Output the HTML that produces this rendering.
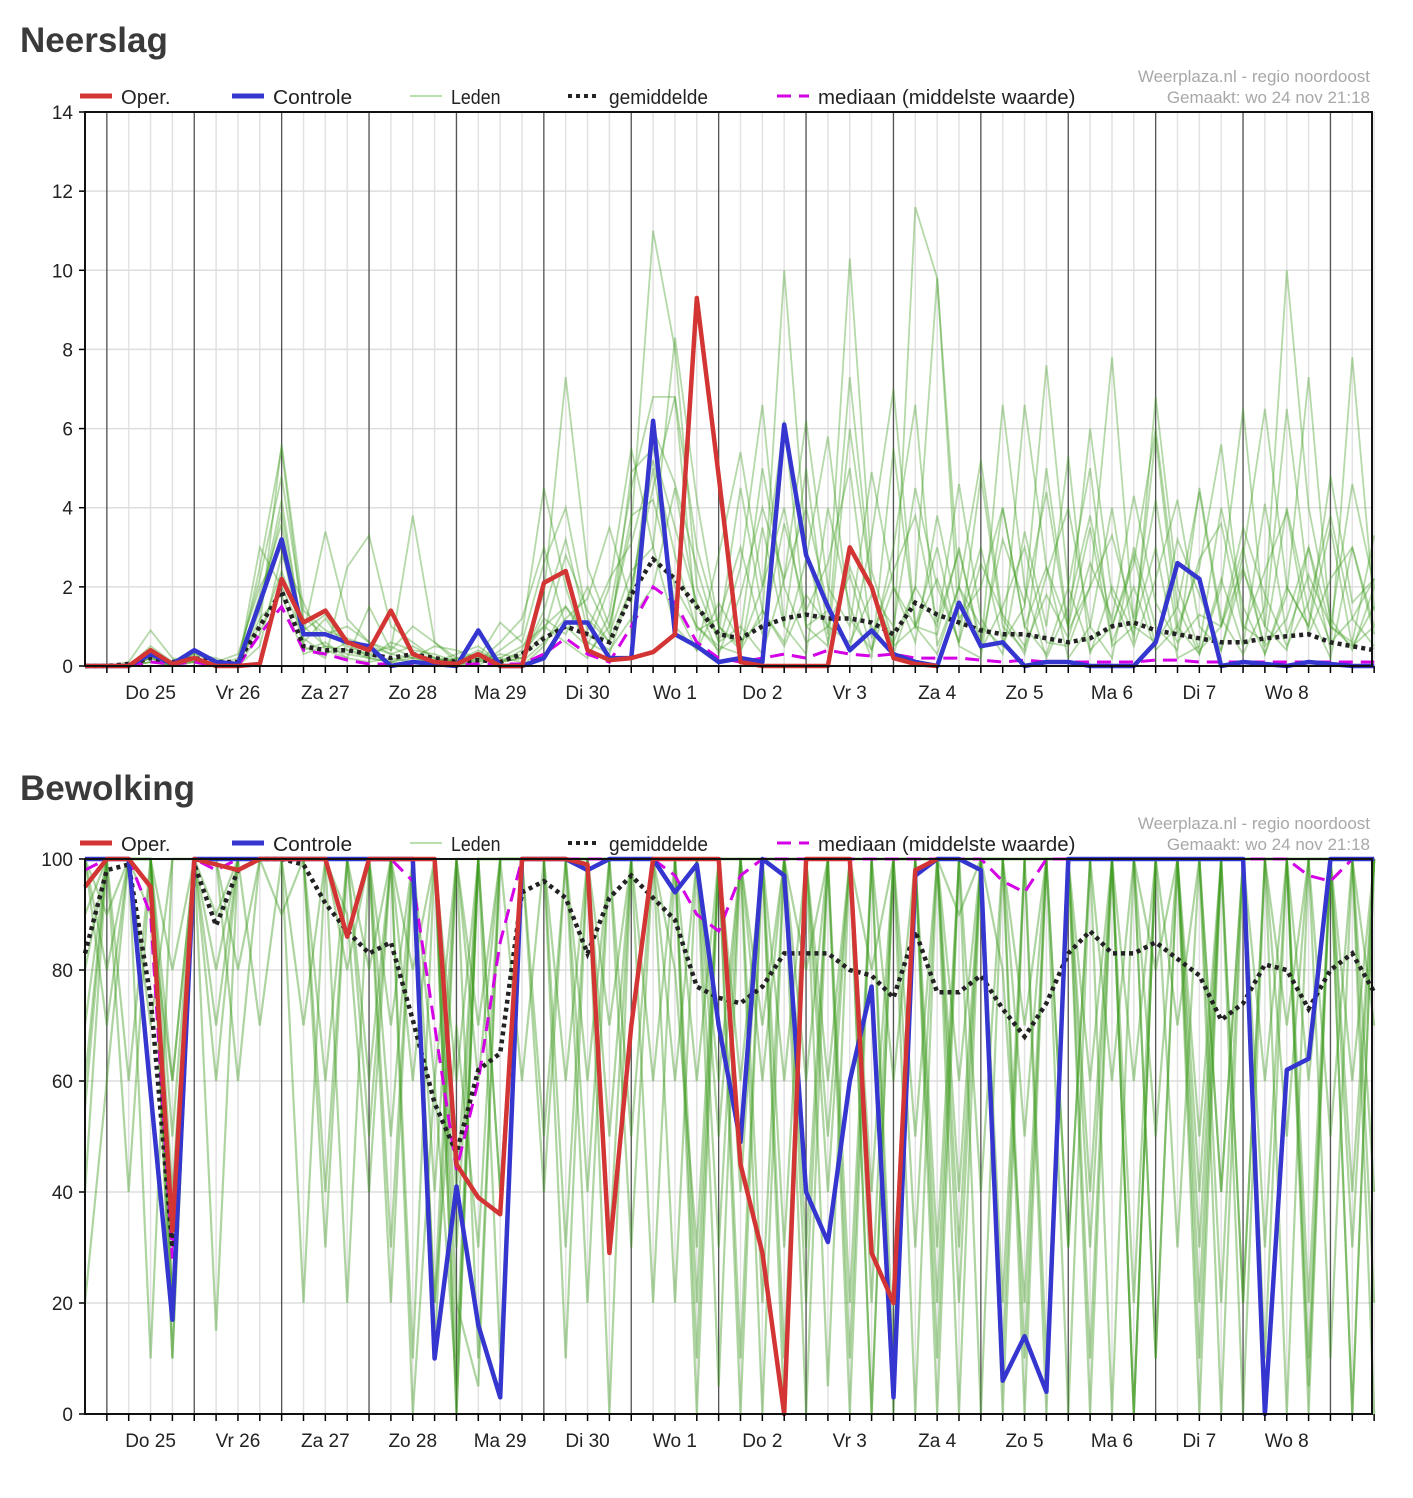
<!DOCTYPE html>
<html><head><meta charset="utf-8">
<style>
body{margin:0;background:#fff;width:1413px;height:1498px;overflow:hidden;font-family:"Liberation Sans",sans-serif;}
svg{position:absolute;left:0;top:0;}
</style></head>
<body>
<svg id="root" width="1413" height="1498" xmlns="http://www.w3.org/2000/svg">
<text x="20" y="52" font-size="35" font-weight="bold" fill="#3a3a3a" font-family="Liberation Sans, sans-serif">Neerslag</text>
<text x="20" y="800" font-size="35" font-weight="bold" fill="#3a3a3a" font-family="Liberation Sans, sans-serif">Bewolking</text>
<g id="c1"></g>
<g id="c2"></g>
</svg>
<script>
const dayLabels = ["Do 25","Vr 26","Za 27","Zo 28","Ma 29","Di 30","Wo 1","Do 2","Vr 3","Za 4","Zo 5","Ma 6","Di 7","Wo 8"];
const rainTicks = [0,2,4,6,8,10,12,14];
const cloudTicks = [0,20,40,60,80,100];

const rainOper = [0,0,0,0.4,0.05,0.2,0,0,0.05,2.2,1.1,1.4,0.6,0.4,1.4,0.3,0.1,0.05,0.3,0,0,2.1,2.4,0.4,0.15,0.2,0.35,0.8,9.3,4.8,0.1,0,0,0,0,3.0,2.0,0.2,0.05,0];
const rainCtrl = [0,0,0,0.3,0.05,0.4,0.1,0.05,1.6,3.2,0.8,0.8,0.6,0.5,0,0.1,0.05,0,0.9,0,0,0.2,1.1,1.1,0.2,0.2,6.2,0.8,0.5,0.1,0.2,0.1,6.1,2.8,1.5,0.4,0.9,0.3,0.1,0,1.6,0.5,0.6,0,0.1,0.1,0,0,0,0.6,2.6,2.2,0,0.1,0.05,0,0.1,0.05,0,0];
const rainMean = [0,0,0.05,0.2,0.1,0.2,0.1,0.1,1.0,1.9,0.5,0.4,0.4,0.3,0.2,0.3,0.2,0.1,0.15,0.1,0.3,0.7,1.0,0.8,0.6,1.8,2.7,2.2,1.5,0.8,0.7,1.0,1.2,1.3,1.2,1.2,1.1,0.8,1.6,1.3,1.1,0.9,0.8,0.8,0.7,0.6,0.7,1.0,1.1,0.9,0.8,0.7,0.6,0.6,0.7,0.75,0.8,0.6,0.5,0.4];
const rainMedian = [0,0,0,0.1,0.05,0.1,0,0,0.8,1.5,0.4,0.3,0.15,0.05,0.05,0.05,0.05,0.05,0.05,0.05,0.05,0.3,0.7,0.3,0.1,1.0,2.0,1.6,0.6,0.2,0.1,0.2,0.3,0.2,0.4,0.3,0.25,0.3,0.2,0.2,0.2,0.15,0.1,0.15,0.1,0.1,0.1,0.1,0.1,0.15,0.15,0.1,0.1,0.1,0.1,0.1,0.1,0.1,0.1,0.1];
const rainMembers = [
[0,0,0,0.5,0.1,0.2,0,0,2.5,5.5,1,0.5,0.3,0.2,0.1,0,0,0,0.2,0,0,0.5,1.5,0.6,0.3,2,4.5,6.8,3,1,0.5,2,4,1,0.5,6,2,0.5,1,3,0.5,0.2,4,1,0.3,2,5,0.5,1,3,0.2,0.5,4,1.5,0.3,2,1,3.5,0.5,1],
[0,0,0.1,0.9,0.2,0.1,0,0.1,1.5,4.2,0.6,1.2,0.4,0.3,0.5,0.2,0.1,0.3,0.5,0.1,0.4,1.8,7.3,2.5,1,3.5,11,8,2,0.6,2.5,6.6,1,0.3,4,1.5,0.2,5.5,1,0.8,3,0.4,6.6,2,0.2,1.5,3.8,1,2.6,6,1.5,0.3,2,6.5,1,0.4,3,1,4.6,2],
[0,0,0,0.2,0,0.3,0.2,0,3,2,0.8,3.4,1.2,0.6,0.4,1,0.6,0.2,0.1,0.6,1.2,3,1,0.5,2,5.5,3,1,0.4,1.6,0.6,1.2,10,3,0.6,2.5,1,0.3,2,9.8,1,3,0.6,1.5,7.6,2,0.4,1,2.8,0.5,3.2,1.8,0.4,2.4,1,6.5,2,0.6,1.2,2.2],
[0,0,0,0.3,0.1,0.1,0.1,0.3,2,3,0.4,0.6,0.2,1.5,0.4,3.8,0.6,0.1,0.3,0.2,0.5,1,0.6,0.2,1.3,4.5,6.8,6.8,1,0.5,0.3,3.5,1,5,0.8,7.3,2,0.5,11.6,9.8,2,0.4,1.5,3,0.6,0.5,2,7.8,1,0.6,1.5,4.4,1,3,0.3,1.8,7.3,1,0.5,1.5],
[0,0,0,0.1,0,0.2,0,0.1,1,5.6,1.4,0.9,0.7,0.5,0.3,0.2,0.5,0.4,0.2,1.1,0.6,2.6,4,1.2,0.6,2,5,1.5,0.4,2.8,5.4,2,6.2,1,1.4,0.4,3.3,7,1,2.2,0.6,4.8,1,0.4,5,1,3.5,0.6,2,0.4,1,2.5,5.6,1,0.6,4,1.4,0.2,3,0.8],
[0,0,0,0.2,0.1,0.3,0.1,0,0.5,2.8,1.6,0.4,0.2,0.1,0.2,0.1,0,0.2,0.1,0.2,0.1,0.6,1.2,1.7,3.5,1.6,6,4.6,2.5,0.6,1,0.3,2.2,4,1.5,10.3,2.4,0.6,2,1,4.6,1.2,0.3,3.4,1,5.3,0.3,2,0.8,5.8,1,0.3,2.2,0.5,4.1,0.8,2.3,1,0.6,3.3],
[0,0,0,0.4,0,0.1,0,0,1.8,3.6,0.5,0.2,2.5,3.3,1,0.6,0.2,0.1,0,0.4,0.8,4.5,2,0.3,1,3.8,4.2,2,1,0.4,0.8,5,2,0.6,1,2.3,0.4,3,6.6,0.5,2,1,0.5,6.6,2.5,0.2,1,4,0.6,6.8,2,0.4,1,2.5,0.5,1.2,3,0.4,7.8,1.4],
[0,0,0,0.1,0,0.2,0,0,0.8,2.4,0.9,1.3,0.5,0.3,0.1,0.3,0.2,0,0.1,0.3,0.2,1.2,0.8,2,0.8,2.4,3,8.3,4.2,1,0.4,1.4,0.6,2.7,5.8,1.2,0.4,2,1,0.3,2,5.2,1.2,0.3,2.3,4,1,0.2,3,1,0.4,4.5,1.2,0.3,1.5,10,4,1.2,0.4,2],
[0,0,0,0.2,0,0,0.1,0,1.2,1.8,0.3,0.5,0.4,0.2,0.6,0.4,0.3,0.1,0.2,0.1,0.3,1,1.5,0.8,0.4,1.2,2,4.5,1.5,0.8,4.5,1.4,0.5,1.8,1,0.6,1.8,1,4.5,2,0.6,2.6,1.3,0.5,1.8,0.7,2.6,1.2,4.3,1.6,0.6,1.3,1,3.5,1.8,0.5,1.6,3.8,1.2,0.5],
[0,0,0,0.3,0.1,0.2,0,0.2,2.2,4.8,1.2,0.8,1,0.6,0.3,0.5,0.2,0.1,0.4,0.1,0.2,0.8,2.8,1.4,0.6,4.9,5.5,3.5,1.6,0.3,1.8,4,2.2,6.2,2,1,4.9,2,0.6,3.8,1.2,2,4,1,2.5,1,6,1.8,0.5,2.2,4.2,1,0.4,2.8,6.5,2,1,4.8,1.6,2.2],
[0,0,0,0.1,0,0.1,0,0,1.4,3.9,0.7,0.3,0.6,0.2,0.1,0.2,0.1,0.2,0.3,0.1,0.2,1.4,3.2,0.9,2.2,3.1,5.2,2.8,0.9,1.2,3,0.8,3.6,1.4,2.6,5,0.7,2.4,3.8,1.1,2.9,0.6,3.2,1.6,4.4,0.9,2,3.3,1.2,4.2,0.8,2.7,3.6,0.9,2.4,3.9,0.8,2.2,3,1]
];

const cloudOper = [95,100,100,95,33,100,99,98,100,100,100,100,86,100,100,100,100,45,39,36,100,100,100,99,29,70,100,100,100,100,45,29,0,100,100,100,29,20,98,100];
const cloudCtrl = [100,100,100,58,17,100,100,100,100,100,100,100,100,100,100,100,10,41,16,3,100,100,100,98,100,100,100,94,99,70,49,100,97,40,31,60,77,3,97,100,100,98,6,14,4,100,100,100,100,100,100,100,100,100,0,62,64,100,100,100];
const cloudMean = [83,98,99,75,30,99,88,98,100,100,99,92,87,83,85,71,56,47,62,65,94,96,93,83,93,97,93,89,77,75,74,77,83,83,83,80,79,75,87,76,76,79,73,68,74,83,87,83,83,85,82,79,71,74,81,80,73,80,83,76];
const cloudMedian = [98,100,100,90,28,100,98,100,100,100,100,100,100,100,100,96,70,44,60,85,100,100,100,100,100,100,100,97,90,87,97,100,100,100,100,100,100,100,100,100,100,100,96,94,100,100,100,100,100,100,100,100,100,100,100,100,97,96,100,100];
const cloudMembers = [
[60,100,100,100,20,100,100,60,100,100,20,100,100,50,100,10,100,0,100,40,100,100,10,100,100,30,100,100,20,100,100,0,100,60,100,20,100,100,0,100,90,100,10,100,100,30,100,100,0,100,70,100,20,100,100,0,100,100,40,100],
[100,80,100,10,100,100,15,100,100,100,70,100,20,100,100,0,60,100,10,100,100,40,100,100,70,100,20,100,100,5,100,100,30,100,5,100,100,60,100,0,100,100,80,20,100,100,0,100,100,50,100,10,100,100,60,100,0,100,100,20],
[40,100,100,100,10,100,100,100,100,90,100,60,100,100,30,100,100,20,5,100,100,100,60,100,0,100,100,60,100,100,40,100,0,100,100,10,100,100,50,100,0,100,100,10,100,100,60,100,0,100,100,30,100,0,100,100,20,100,60,100],
[100,100,60,100,60,100,90,100,100,100,100,40,100,80,100,60,100,40,100,10,100,100,100,100,50,100,100,100,10,100,60,100,100,20,100,100,0,100,100,100,20,100,100,50,100,0,100,100,100,10,100,100,40,100,100,100,5,100,100,0],
[80,100,100,100,40,100,70,100,100,100,100,100,100,100,100,100,20,70,30,100,100,100,100,60,100,100,100,100,100,30,100,70,100,100,60,100,0,100,100,30,100,100,100,70,100,100,10,100,100,100,30,100,100,20,100,100,60,100,100,40],
[100,90,100,100,80,100,100,100,100,100,100,100,80,100,50,100,100,60,100,100,100,100,100,100,100,100,100,100,100,100,0,100,100,80,100,100,100,0,100,100,100,40,100,100,100,100,30,100,100,100,100,50,100,100,100,70,100,100,0,100],
[70,100,100,100,10,100,100,100,100,100,100,100,100,100,100,80,100,100,70,100,100,100,100,100,100,100,60,100,100,100,100,60,100,100,100,0,100,100,100,100,100,0,100,100,100,100,100,60,100,100,100,0,100,100,100,100,100,50,100,100],
[100,100,100,90,60,100,100,100,100,100,100,100,100,100,100,100,40,100,100,100,100,100,100,100,100,100,100,80,30,100,100,100,100,100,40,100,100,100,30,100,100,100,100,100,0,100,100,100,60,100,100,100,100,20,100,100,100,100,100,70],
[20,60,100,100,100,100,100,80,100,100,100,100,100,60,100,100,100,10,100,100,60,100,100,20,100,100,100,100,100,60,100,100,100,30,100,100,80,100,100,10,100,100,20,100,100,100,100,0,100,100,100,40,100,100,10,100,100,100,30,100],
[100,100,100,100,20,100,100,100,100,100,100,100,100,100,100,100,60,5,100,100,100,100,100,100,100,100,100,100,100,100,100,100,60,100,100,100,100,100,100,100,60,100,100,100,100,100,100,100,100,80,100,100,100,100,100,100,100,100,100,100],
[100,70,100,100,30,100,80,100,100,100,100,100,90,40,100,100,20,100,60,100,100,50,100,100,30,100,100,20,100,100,10,100,100,0,100,100,40,100,100,20,100,100,0,100,100,30,100,100,0,100,100,20,100,100,30,100,100,10,100,100],
[90,100,100,70,100,100,60,100,100,100,100,30,100,100,70,100,10,100,100,40,100,100,30,100,100,50,100,100,0,100,100,20,100,100,50,100,100,10,100,100,30,100,100,0,100,100,40,100,100,10,100,100,0,100,100,50,100,100,0,100],
[100,100,40,100,20,100,100,100,70,100,100,100,100,100,20,100,100,30,100,100,100,100,100,40,100,100,100,100,60,100,100,100,10,100,100,100,20,100,100,100,40,100,100,100,10,100,100,100,20,100,100,100,40,100,100,100,10,100,100,100],
[55,100,100,100,50,100,100,100,100,100,100,100,100,100,100,100,100,0,100,100,100,100,100,100,100,100,100,100,100,50,100,100,100,100,100,100,100,100,100,100,100,100,100,100,100,100,100,100,100,100,100,100,100,100,100,100,100,100,100,100]
];

const NS='http://www.w3.org/2000/svg';
const X0=85, X1=1372, STEP=21.85;
function xs(i){return X0+STEP*i;}
function mk(parent,tag,attrs){const e=document.createElementNS(NS,tag);for(const k in attrs)e.setAttribute(k,attrs[k]);parent.appendChild(e);return e;}
function pts(arr,ys){return arr.map((v,i)=>xs(i).toFixed(1)+','+ys(v).toFixed(1)).join(' ');}

function drawChart(g,top,bottom,maxV,ticks,members,mean,median,oper,ctrl,prefix,mw,mo){
  const ys=v=>bottom-(v/maxV)*(bottom-top);
  for(let i=0;i<=59;i++){
    const l=mk(g,'line',{x1:xs(i),x2:xs(i),y1:top,y2:bottom,stroke:'#e2e2e2','stroke-width':1.5});
    
    
  }
  ticks.forEach(t=>{
    const l=mk(g,'line',{x1:X0,x2:X1,y1:ys(t),y2:ys(t),stroke:'#dedede','stroke-width':1.5});
    
    
    const tk=mk(g,'line',{x1:X0-6,x2:X0,y1:ys(t),y2:ys(t),stroke:'#000','stroke-width':1.5});
    
    
    const tx=mk(g,'text',{x:X0-12,y:ys(t)+7,'text-anchor':'end','font-size':19,fill:'#222'});
    tx.textContent=t;
    
    
  });
  for(let d=0;d<15;d++){
    const x=xs(1+4*d);
    const l=mk(g,'line',{x1:x,x2:x,y1:top,y2:bottom,stroke:'#555','stroke-width':1.3});
    
    
  }
  members.forEach(m=>{
    const p=mk(g,'polyline',{points:pts(m,ys),fill:'none',stroke:'#3d9b1e','stroke-width':mw,'stroke-opacity':mo});
    
    
  });
  const pm=mk(g,'polyline',{points:pts(median,ys),fill:'none',stroke:'#d400e6','stroke-width':3,'stroke-dasharray':'14,8'});
  
  
  const pa=mk(g,'polyline',{points:pts(mean,ys),fill:'none',stroke:'#222','stroke-width':4.5,'stroke-dasharray':'4,4'});
  
  
  const pc=mk(g,'polyline',{points:pts(ctrl,ys),fill:'none',stroke:'#3535cf','stroke-width':4.5,'stroke-linejoin':'round'});
  
  
  const po=mk(g,'polyline',{points:pts(oper,ys),fill:'none',stroke:'#d33535','stroke-width':4.5,'stroke-linejoin':'round'});
  
  
  const fr=mk(g,'path',{d:`M${X0},${top}H${X1}V${bottom}H${X0}Z`,fill:'none',stroke:'#111','stroke-width':2});
  
  
  for(let i=1;i<=59;i++){
    const t=mk(g,'line',{x1:xs(i),x2:xs(i),y1:bottom,y2:bottom+7,stroke:'#000','stroke-width':1.5});
    
    
  }
  dayLabels.forEach((lab,d)=>{
    const t=mk(g,'text',{x:xs(3+4*d),y:bottom+33,'text-anchor':'middle','font-size':19,fill:'#222'});
    t.textContent=lab;
    
    
  });
  const ly=top-16;
  const items=[['Oper.','#d33535',5,null,80],['Controle','#3535cf',5,null,232],['Leden','#9fd58f',1.5,null,410],['gemiddelde','#222',4,'4,4',568],['mediaan (middelste waarde)','#d400e6',3,'14,8',777]];
  items.forEach(it=>{
    const a={x1:it[4],x2:it[4]+32,y1:ly,y2:ly,stroke:it[1],'stroke-width':it[2]};
    if(it[3])a['stroke-dasharray']=it[3];
    const l=mk(g,'line',a);
    
    
    const t=mk(g,'text',{x:it[4]+41,y:ly+8,'font-size':20,fill:'#222',textLength:it[0].length*9.9,lengthAdjust:'spacingAndGlyphs'});
    t.textContent=it[0];
    
    
  });
  const s1=mk(g,'text',{x:1370,y:top-30,'text-anchor':'end','font-size':17,fill:'#a8a8a8'});
  s1.textContent='Weerplaza.nl - regio noordoost';
  
  
  const s2=mk(g,'text',{x:1370,y:top-9,'text-anchor':'end','font-size':17,fill:'#a8a8a8'});
  s2.textContent='Gemaakt: wo 24 nov 21:18';
  
  
}
drawChart(document.getElementById('c1'),112,666,14,rainTicks,rainMembers,rainMean,rainMedian,rainOper,rainCtrl,'rain',1.8,0.38);
drawChart(document.getElementById('c2'),859,1414,100,cloudTicks,cloudMembers,cloudMean,cloudMedian,cloudOper,cloudCtrl,'cloud',2.2,0.42);
</script>
</body></html>
